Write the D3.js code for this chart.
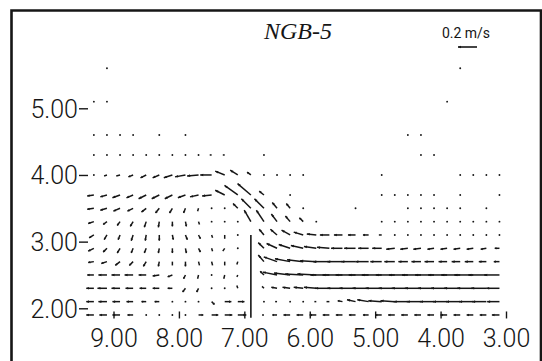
<!DOCTYPE html>
<html><head><meta charset="utf-8">
<script src="https://cdn.jsdelivr.net/npm/d3@7"></script>
<style>
html,body{margin:0;padding:0;background:#fff;}
svg{display:block;}
</style></head><body>
<svg id="chart" width="542" height="361"></svg>
<script>
const _ = null;
// measurement grid: columns (x) and rows (y)
const xCols = [9.3,9.1,8.9,8.7,8.5,8.3,8.1,7.9,7.7,7.5,7.3,7.1,6.9,6.7,6.5,6.3,6.1,5.9,5.7,5.5,5.3,5.1,4.9,4.7,4.5,4.3,4.1,3.9,3.7,3.5,3.3,3.1];
const yRows = [1.9,2.1,2.3,2.5,2.7,2.9,3.1,3.3,3.5,3.7,4.0,4.3,4.6,5.1,5.6];
const xTicks = [9,8,7,6,5,4,3];
const yTicks = [2,3,4,5];
const plateX = 6.9, plateBottom = 1.86, plateTop = 3.1;
const legendSpeed = 20; // cm/s  (0.2 m/s)

// velocity components in cm/s; u > 0 toward increasing x, v > 0 upward
const U = [
 [8,8,8,6,1,1,1,-1,-5,-7,-8,-9,_,2,5,7,7,7,7,7,7,6,7,7,7,7,7,7,7,7,7,8],
 [8,9,8,7,5,5,1,1,1,-3,-7,-7,_,1,2,1,1,2,3,5,9,12,14,15,15,15,15,15,15,15,15,13],
 [8,10,9,8,7,7,5,3,2,0.5,0.5,1,_,2,6,8,10,13,15,16,17,17,17,17,17,17,17,17,17,17,16,14],
 [7,9,9,9,8,7,5,2,1,0.5,1,1,_,4,15,17,19,20,20,21,21,21,21,20,20,20,20,20,20,20,19,16],
 [6,6,5,4,3,1,0,0,-1,-1,0,1,_,6,14,16,17,17,17,16,15,14,12,11,10,10,10,9,9,9,8,6],
 [6,4,3,2,2,1,0,-1,-2,-1,2,0.5,_,6,11,12,13,13,13,12,12,11,10,9,8,8,7,7,7,7,6,5],
 [5,3,2,2,1,0,-1,-2,-2,-1,0,0.5,_,5,7,9,10,10,10,9,8,6,3,1,1,1,0.5,1,1,1,1,1],
 [6,4,3,3,2,1,0,-1,-1,0.5,0.5,0.5,7,8,6,5,4,1,_,_,_,_,1,1,1,1,1,1,1,1,1,1],
 [7,7,7,6,5,4,3,2,1,0.5,0.5,5,10,10,5,4,1,_,_,_,1,_,_,_,1,1,1,1,1,_,1,_],
 [7,7,8,7,8,8,8,8,9,10,10,14,14,5,_,1,_,_,_,_,_,_,1,1,1,1,1,_,1,_,_,1],
 [1,3,4,5,6,7,9,11,12,12,10,8,4,1,1,1,1,_,_,_,_,_,1,_,_,_,_,_,1,1,1,1],
 [1,1,1,1,1,1,1,1,1,2,2,_,_,1,_,_,_,_,_,_,_,_,_,_,_,1,1,_,_,_,_,_],
 [1,1,1,1,_,1,_,1,_,_,_,_,_,_,_,_,_,_,_,_,_,_,_,_,1,1,_,_,_,_,_,_],
 [1,1,_,_,_,_,_,_,_,_,_,_,_,_,_,_,_,_,_,_,_,_,_,_,_,_,_,1,_,_,_,_],
 [_,1,_,_,_,_,_,_,_,_,_,_,_,_,_,_,_,_,_,_,_,_,_,_,_,_,_,_,1,_,_,_]
];
const V = [
 [0,0,0,0,0,0,0,0,0,0,0,0,_,0,0,0,0,0,0,0,0,0,0,0,0,0,0,0,0,0,0,0],
 [0,0,0,0,0,0,0,0,0,-3,0,0,_,0,0,0,0,0,0,1,2,2,1,1,0,0,0,0,0,0,0,0],
 [0,0,0,0,0,0,0,-4,-4,0,0.5,3,_,2,1,1,1,1,0,0,0,0,0,0,0,0,0,0,0,0,0,0],
 [0,0,0,0,0,-1,-2,-4,-4,0,-4,-2,_,4,3,2,1,1,0,0,0,0,0,0,0,0,0,0,0,0,0,0],
 [-1,-2,-4,-4,-5,-5,-4,-5,-4,-4,-4,-3,_,7,5,3,2,1,0,0,0,0,0,0,0,0,0,0,0,0,0,0],
 [-3,-4,-5,-5,-5,-5,-5,-5,-4,-3,-3,0,_,6,5,4,3,2,1,0,0,0,0,-1,-1,-1,-1,-1,-1,-1,-1,0],
 [-3,-5,-5,-6,-6,-6,-5,-5,-4,-3,-4,0,_,6,6,5,3,1,0,0,0,0,0,0,0,0,0,0,0,0,0,0],
 [-2,-3,-4,-5,-6,-6,-5,-5,-3,0,0,0,12,12,8,6,4,0,_,_,_,_,0,0,0,0,0,0,0,0,0,0],
 [-1,-2,-3,-3,-4,-5,-5,-5,-3,0,0,5,10,10,6,5,0,_,_,_,0,_,_,_,0,0,0,0,0,_,0,_],
 [-1,-2,-3,-3,-4,-4,-4,-3,-2,-1,5,10,12,4,_,0,_,_,_,_,_,_,0,0,0,0,0,_,0,_,_,0],
 [0,-1,-1,-2,-3,-3,-3,-2,-1,0,4,5,3,0,0,0,0,_,_,_,_,_,0,_,_,_,_,_,0,0,0,0],
 [0,0,0,0,0,0,0,0,0,0,0,_,_,0,_,_,_,_,_,_,_,_,_,_,_,0,0,_,_,_,_,_],
 [0,0,0,0,_,0,_,0,_,_,_,_,_,_,_,_,_,_,_,_,_,_,_,_,0,0,_,_,_,_,_,_],
 [0,0,_,_,_,_,_,_,_,_,_,_,_,_,_,_,_,_,_,_,_,_,_,_,_,_,_,0,_,_,_,_],
 [_,0,_,_,_,_,_,_,_,_,_,_,_,_,_,_,_,_,_,_,_,_,_,_,_,_,_,_,0,_,_,_]
];

const ink = '#161616';
const svg = d3.select('#chart');

// x axis runs from 9 on the left to 3 on the right
const sx = d3.scaleLinear().domain([9, 3]).range([113.5, 506]);
const sy = d3.scaleLinear().domain([2, 5]).range([308.3, 108.3]);
const spd = d3.scaleLinear().domain([0, legendSpeed]).range([0, 19]); // cm/s -> px

// frame
svg.append('path')
  .attr('d', 'M11.5,372 V10.5 H541 V372')
  .attr('fill', 'none').attr('stroke', ink).attr('stroke-width', 2.6);

// one arrow: tail at the grid point, head in the flow direction
function arrow(g, x0, y0, dx, dy, w) {
  const len = Math.hypot(dx, dy);
  if (len < 1.6) {
    g.append('circle').attr('cx', x0).attr('cy', y0).attr('r', 0.95).attr('fill', ink);
    return;
  }
  const x1 = x0 + dx, y1 = y0 + dy;
  g.append('line').attr('x1', x0).attr('y1', y0).attr('x2', x1).attr('y2', y1)
    .attr('stroke', ink).attr('stroke-width', w).attr('stroke-linecap', 'butt');
  if (len >= 4) {
    const ux = dx / len, uy = dy / len, h = Math.min(3, len * 0.35), hw = 1.3;
    const bx = x1 - ux * h, by = y1 - uy * h;
    g.append('path')
      .attr('d', `M${x1},${y1} L${bx - uy * hw},${by + ux * hw} L${bx + uy * hw},${by - ux * hw} Z`)
      .attr('fill', ink);
  }
}

const field = svg.append('g');
yRows.forEach((y, i) => {
  xCols.forEach((x, k) => {
    const u = U[i][k], v = V[i][k];
    if (u === null || v === null) return;
    arrow(field, sx(x), sy(y), -spd(u), -spd(v), 1.5);
  });
});

// vertical plate
svg.append('line')
  .attr('x1', sx(plateX)).attr('x2', sx(plateX))
  .attr('y1', sy(plateBottom)).attr('y2', sy(plateTop))
  .attr('stroke', ink).attr('stroke-width', 1.6);

const labelFont = 'Roboto, "Liberation Sans", sans-serif';

// x axis: cross-shaped ticks on the lowest row, labels below
const gx = svg.append('g')
  .attr('transform', `translate(0,${sy(1.9)})`)
  .call(d3.axisBottom(sx).tickValues(xTicks).tickFormat(d3.format('.2f')).tickSize(0));
gx.select('.domain').remove();
gx.selectAll('.tick line').attr('y1', -3.5).attr('y2', 3.5).attr('stroke', ink).attr('stroke-width', 1.4);
gx.selectAll('.tick text')
  .attr('y', 32).attr('dy', null)
  .attr('fill', ink).attr('font-family', labelFont).attr('font-weight', 300)
  .attr('font-size', 25).attr('text-anchor', 'middle');

// y axis
const gy = svg.append('g')
  .attr('transform', 'translate(88,0)')
  .call(d3.axisLeft(sy).tickValues(yTicks).tickFormat(d3.format('.2f')).tickSize(9).tickPadding(1));
gy.select('.domain').remove();
gy.selectAll('.tick line').attr('stroke', ink).attr('stroke-width', 1.4);
gy.selectAll('.tick text')
  .attr('fill', ink).attr('font-family', labelFont).attr('font-weight', 300)
  .attr('font-size', 25).attr('dy', '0.36em');

// title
svg.append('text')
  .attr('x', 298).attr('y', 39)
  .attr('text-anchor', 'middle')
  .attr('font-family', '"Liberation Serif", "Times New Roman", serif')
  .attr('font-style', 'italic').attr('font-size', 24).attr('fill', ink)
  .text('NGB-5');

// speed legend
svg.append('text')
  .attr('x', 466).attr('y', 38).attr('text-anchor', 'middle')
  .attr('font-family', labelFont).attr('font-size', 14).attr('fill', ink)
  .text('0.2 m/s');
const lg = svg.append('g');
arrow(lg, 477, 47, -spd(legendSpeed), 0, 1.6);
</script>
</body></html>
